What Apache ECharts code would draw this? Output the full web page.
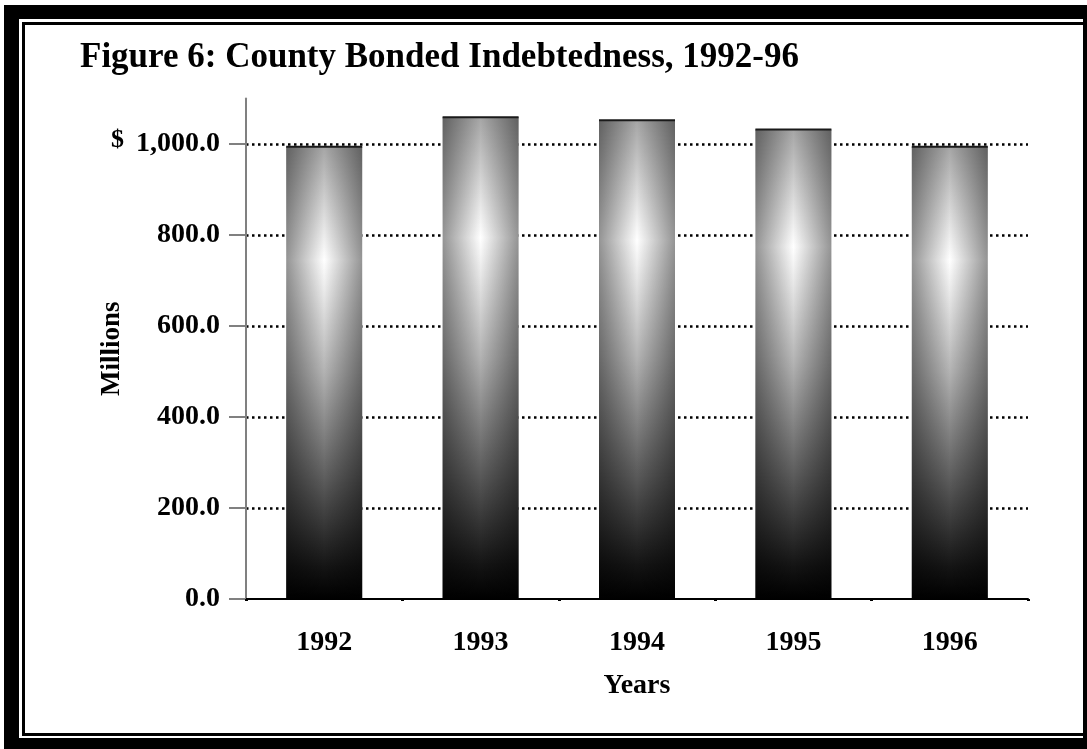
<!DOCTYPE html>
<html>
<head>
<meta charset="utf-8">
<title>Figure 6: County Bonded Indebtedness, 1992-96</title>
<script src="https://cdn.jsdelivr.net/npm/echarts@6/dist/echarts.min.js"></script>
<style>
  html, body { margin: 0; padding: 0; background: #fff; }
  #chart1 { width: 1087px; height: 749px; }
</style>
</head>
<body>
<div id="chart1"></div>
<script>
// data (millions of dollars)
const years = ['1992', '1993', '1994', '1995', '1996'];
const bondedDebt = [994, 1059, 1052, 1032, 994];
const yTickValues = [0, 200, 400, 600, 800, 1000];

const serif = "'Liberation Serif', 'Times New Roman', serif";

const fmtMillions = (v) =>
  v.toLocaleString('en-US', { minimumFractionDigits: 1, maximumFractionDigits: 1 });

// vertical shading: grey top, bright spot a quarter down, black at the base
const barFill = {
  type: 'linear', x: 0, y: 0, x2: 0, y2: 1,
  colorStops: [
    { offset: 0, color: '#a6a6a6' },
    { offset: 0.25, color: '#ffffff' },
    { offset: 0.5, color: '#b2b2b2' },
    { offset: 0.75, color: '#575757' },
    { offset: 0.93, color: '#141414' },
    { offset: 1, color: '#000000' }
  ]
};

// darker edges left and right, so the bar looks rounded
const barEdges = {
  type: 'linear', x: 0, y: 0, x2: 1, y2: 0,
  colorStops: [
    { offset: 0, color: 'rgba(0,0,0,0.42)' },
    { offset: 0.5, color: 'rgba(0,0,0,0)' },
    { offset: 1, color: 'rgba(0,0,0,0.42)' }
  ]
};

const getOptionChart1 = () => {
  return {
    backgroundColor: '#ffffff',
    animation: false,
    textStyle: { fontFamily: serif },
    title: {
      text: 'Figure 6: County Bonded Indebtedness, 1992-96',
      left: 75,
      top: 35,
      textStyle: { fontFamily: serif, fontWeight: 'bold', fontSize: 35, color: '#000' }
    },
    graphic: [
      // heavy frame with a thin inner rule
      { type: 'rect', z: -10, shape: { x: 4, y: 5, width: 1100, height: 760 }, style: { fill: '#000' } },
      { type: 'rect', z: -9, shape: { x: 19, y: 19, width: 1064, height: 719 }, style: { fill: '#fff' } },
      { type: 'rect', z: -8, shape: { x: 23.5, y: 23.5, width: 1061, height: 711 },
        style: { fill: '#fff', stroke: '#000', lineWidth: 3 } },
      { type: 'text', z: 10, left: 111, top: 127,
        style: { text: '$', font: 'bold 26px ' + serif, fill: '#000' } }
    ],
    grid: { left: 246, right: 59, top: 98.5, bottom: 150, containLabel: false },
    xAxis: [{
      type: 'category',
      data: years,
      name: 'Years',
      nameLocation: 'middle',
      nameGap: 73,
      nameTextStyle: { fontFamily: serif, fontWeight: 'bold', fontSize: 28, color: '#000' },
      axisLine: { lineStyle: { color: '#000', width: 2 } },
      axisTick: { alignWithLabel: true, length: 17, lineStyle: { color: '#808080', width: 2 } },
      axisLabel: { margin: 30, fontFamily: serif, fontWeight: 'bold', fontSize: 28, color: '#000' }
    }, {
      // small marks between the categories
      type: 'category',
      data: years,
      position: 'bottom',
      axisLine: { show: false },
      axisTick: { show: true, length: 2, lineStyle: { color: '#000', width: 3 } },
      axisLabel: { show: false },
      splitLine: { show: false }
    }],
    yAxis: {
      type: 'value',
      min: 0,
      max: 1100,
      interval: 200,
      name: 'Millions',
      nameLocation: 'middle',
      nameRotate: 90,
      nameGap: 112,
      nameTextStyle: { fontFamily: serif, fontWeight: 'bold', fontSize: 27, color: '#000' },
      axisLine: { show: true, lineStyle: { color: '#808080', width: 2 } },
      axisTick: { show: true, length: 17, customValues: yTickValues,
        lineStyle: { color: '#808080', width: 2 } },
      axisLabel: {
        margin: 26,
        customValues: yTickValues,
        fontFamily: serif, fontWeight: 'bold', fontSize: 28, color: '#000',
        formatter: (v) => fmtMillions(v)
      },
      splitLine: {
        show: true,
        showMinLine: false,
        lineStyle: { color: '#000', width: 2.5, type: [2.5, 3.5] }
      }
    },
    series: [{
      type: 'bar',
      data: bondedDebt,
      barWidth: 76,
      barGap: '-100%',
      itemStyle: { color: barFill },
      z: 3
    }, {
      type: 'bar',
      data: bondedDebt,
      barWidth: 76,
      barGap: '-100%',
      silent: true,
      itemStyle: { color: barEdges },
      z: 4
    }, {
      type: 'pictorialBar',
      data: bondedDebt,
      symbol: 'rect',
      symbolSize: [76, 2],
      symbolPosition: 'end',
      symbolOffset: [0, '-50%'],
      itemStyle: { color: '#1a1a1a' },
      silent: true,
      z: 5
    }]
  };
};

const initChart = () => {
  const chart1 = echarts.init(document.getElementById('chart1'));
  chart1.setOption(getOptionChart1());
};

window.addEventListener('load', function() {
  initChart();
});
</script>
</body>
</html>
